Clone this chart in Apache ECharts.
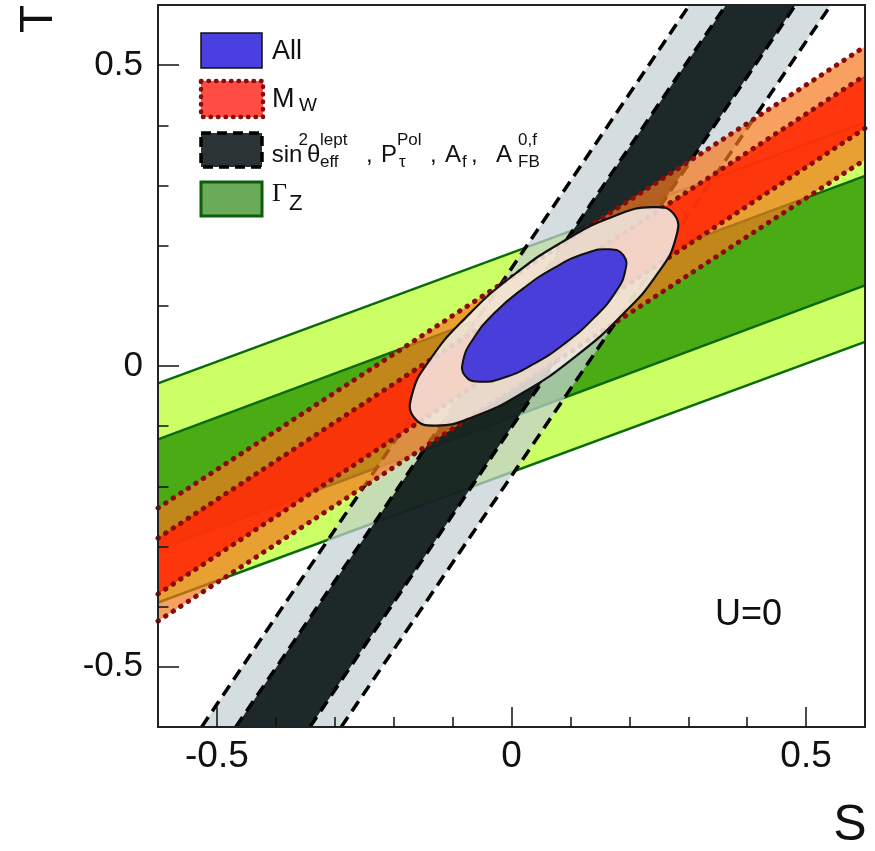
<!DOCTYPE html>
<html><head><meta charset="utf-8">
<script src="https://cdn.jsdelivr.net/npm/echarts@6/dist/echarts.min.js"></script>
<style>html,body{margin:0;padding:0;background:#fff}#c{width:875px;height:851px}</style>
</head><body><div id="c"></div><script>
// ---- axis ticks ----
const tickMajor = [-0.5, 0, 0.5];
const tickMinor = [-0.4, -0.3, -0.2, -0.1, 0.1, 0.2, 0.3, 0.4];
const tickLabels = ['-0.5', '0', '0.5'];

// ---- Γ_Z band edges: T at S = -0.6 and S = 0.6 ----
const edgeS = [-0.6, 0.6];
const gzOuterHi = [-0.029, 0.405];
const gzInnerHi = [-0.122, 0.316];
const gzInnerLo = [-0.305, 0.134];
const gzOuterLo = [-0.393, 0.040];

// ---- M_W band edges: T at S = -0.6 and S = 0.6 ----
const mwOuterHi = [-0.236, 0.531];
const mwInnerHi = [-0.286, 0.483];
const mwInnerLo = [-0.379, 0.395];
const mwOuterLo = [-0.424, 0.343];

// ---- sin2θ / asymmetries band edges: S at T = -0.6 and T = 0.6 ----
const edgeT = [-0.6, 0.6];
const swOuterL = [-0.526, 0.302];
const swInnerL = [-0.468, 0.364];
const swInnerR = [-0.342, 0.482];
const swOuterR = [-0.289, 0.542];

// ---- combined fit contours ----
const all95S = [0.276, 0.279, 0.249, 0.189, 0.109, 0.020, -0.063, -0.128, -0.165, -0.169, -0.138, -0.078, 0.002, 0.091, 0.174, 0.239];
const all95T = [0.252, 0.213, 0.155, 0.086, 0.016, -0.044, -0.084, -0.099, -0.086, -0.048, 0.011, 0.080, 0.150, 0.209, 0.249, 0.264];
const all68S = [0.190, 0.193, 0.176, 0.140, 0.091, 0.037, -0.015, -0.055, -0.079, -0.082, -0.065, -0.029, 0.020, 0.074, 0.125, 0.166];
const all68T = [0.184, 0.158, 0.122, 0.080, 0.038, 0.003, -0.020, -0.026, -0.016, 0.009, 0.045, 0.088, 0.129, 0.164, 0.187, 0.194];

const FONT = '"Liberation Sans", Arial, Helvetica, sans-serif';
const SERIF = '"Liberation Serif", "Times New Roman", serif';

const hEdge = ts => edgeS.map((s, i) => [s, ts[i]]);
const vEdge = ss => edgeT.map((t, i) => [ss[i], t]);
const band = (a, b) => a.concat(b.slice().reverse());
const zip = (xs, ys) => xs.map((x, i) => [x, ys[i]]);

let zc = 2;
function poly(name, pts, style, smooth) {
  return {
    type: 'custom', name: name, z: zc++, silent: true, clip: true,
    data: [[0, 0]],
    renderItem: function (p, api) {
      return { type: 'polygon', shape: { points: pts.map(q => api.coord(q)), smooth: smooth || 0 }, style: style };
    }
  };
}
function edge(name, pts, lineStyle) {
  return { type: 'line', name: name, z: zc++, silent: true, clip: true, symbol: 'none', showSymbol: false,
    data: pts, lineStyle: lineStyle, emphasis: { disabled: true } };
}

const greenLine = { color: '#0b6a0b', width: 2.5, type: 'solid' };
const dashLine = { color: '#000', width: 3.5, type: [12, 7] };
const dotLine = { color: '#8b0a0a', width: 5, type: [0.5, 8.5], cap: 'round' };

const series = [
  poly('Gamma_Z 95%', band(hEdge(gzOuterHi), hEdge(gzOuterLo)), { fill: '#ccff66' }),
  poly('Gamma_Z 68%', band(hEdge(gzInnerHi), hEdge(gzInnerLo)), { fill: '#4aab14' }),
  edge('gz1', hEdge(gzOuterHi), greenLine),
  edge('gz2', hEdge(gzInnerHi), greenLine),
  edge('gz3', hEdge(gzInnerLo), greenLine),
  edge('gz4', hEdge(gzOuterLo), greenLine),
  poly('sin2theta 95%', band(vEdge(swOuterL), vEdge(swOuterR)), { fill: 'rgba(196,208,211,0.72)' }),
  poly('sin2theta 68%', band(vEdge(swInnerL), vEdge(swInnerR)), { fill: 'rgba(3,16,16,0.88)' }),
  edge('sw1', vEdge(swOuterL), dashLine),
  edge('sw2', vEdge(swInnerL), dashLine),
  edge('sw3', vEdge(swInnerR), dashLine),
  edge('sw4', vEdge(swOuterR), dashLine),
  poly('M_W 95%', band(hEdge(mwOuterHi), hEdge(mwOuterLo)), { fill: 'rgba(245,119,28,0.7)' }),
  poly('M_W 68%', band(hEdge(mwInnerHi), hEdge(mwInnerLo)), { fill: 'rgba(255,43,7,0.9)' }),
  edge('mw1', hEdge(mwOuterHi), dotLine),
  edge('mw2', hEdge(mwInnerHi), dotLine),
  edge('mw3', hEdge(mwInnerLo), dotLine),
  edge('mw4', hEdge(mwOuterLo), dotLine),
  poly('All 95%', zip(all95S, all95T), { fill: 'rgba(242,238,230,0.86)', stroke: '#111', lineWidth: 2.2 }, 0.5),
  poly('All 68%', zip(all68S, all68T), { fill: '#4a3edb', stroke: '#111', lineWidth: 2 }, 0.5)
];

function txt(text, x, baseline, size, family) {
  return { type: 'text', x: x, y: baseline - 0.3465 * size, z: 100,
    style: { text: text, fontSize: size, fontFamily: family || FONT, fill: '#111', align: 'left', verticalAlign: 'middle' } };
}
const B3 = 163.5, SUP = 146, SUB = 168;
const graphics = [
  { type: 'rect', z: 100, shape: { x: 201, y: 33, width: 61, height: 35 }, style: { fill: '#4a3fe0', stroke: '#111', lineWidth: 1.5 } },
  txt('All', 272, 61, 27),
  { type: 'rect', z: 100, shape: { x: 201, y: 81, width: 62, height: 36 }, style: { fill: '#ff4d45', stroke: '#8b0a0a', lineWidth: 4.5, lineDash: [0.5, 7], lineCap: 'round' } },
  txt('M', 272, 108.5, 27), txt('W', 299, 112, 19),
  { type: 'rect', z: 100, shape: { x: 201, y: 133, width: 61, height: 34 }, style: { fill: '#2b3434', stroke: '#000', lineWidth: 3.5, lineDash: [10, 6] } },
  txt('sin', 271.7, B3, 24), txt('2', 298.5, SUP, 17), txt('θ', 307, B3, 24),
  txt('lept', 320, SUP, 17), txt('eff', 320, SUB, 17), txt(',', 366, B3, 24),
  txt('P', 381, B3, 24), txt('Pol', 397, SUP, 17), txt('τ', 399, SUB, 17), txt(',', 430, B3, 24),
  txt('A', 445, B3, 24), txt('f', 462, SUB, 17), txt(',', 471, B3, 24),
  txt('A', 496, B3, 24), txt('0,f', 518, SUP, 17), txt('FB', 518, SUB, 17),
  { type: 'rect', z: 100, shape: { x: 201, y: 182, width: 61, height: 34 }, style: { fill: '#6aab5a', stroke: '#0b5e0b', lineWidth: 3 } },
  txt('Γ', 272, 203.5, 26, SERIF), txt('Z', 289, 211.5, 22),
  txt('U=0', 715, 628, 36),
  { type: 'text', x: 39, y: 19, rotation: Math.PI / 2, z: 100, style: { text: 'T', fontSize: 46, fontFamily: FONT, fill: '#111', align: 'center', verticalAlign: 'middle' } },
  { type: 'text', x: 850, y: 826, z: 100, style: { text: 'S', fontSize: 50, fontFamily: FONT, fill: '#111', align: 'center', verticalAlign: 'middle' } }
];

const gridBox = { left: 158, top: 5, width: 707, height: 722 };
function axisCommon(extra) {
  return Object.assign({ type: 'value', min: -0.6, max: 0.6, z: 100, splitLine: { show: false } }, extra);
}
const chart = echarts.init(document.getElementById('c'), null, { renderer: 'canvas' });
chart.setOption({
  animation: false,
  backgroundColor: '#fff',
  grid: [
    Object.assign({ show: true, z: 100, borderColor: '#222', borderWidth: 2, backgroundColor: 'rgba(0,0,0,0)' }, gridBox),
    Object.assign({ show: false }, gridBox)
  ],
  xAxis: [
    axisCommon({ gridIndex: 0, position: 'bottom',
      axisLine: { show: true, onZero: false, lineStyle: { color: '#222', width: 2 } },
      axisTick: { show: true, inside: true, length: 20, customValues: tickMajor, lineStyle: { color: '#111', width: 1.5 } },
      axisLabel: { show: true, customValues: tickMajor, margin: 11, fontSize: 37, fontFamily: FONT, color: '#111',
        formatter: v => tickLabels[tickMajor.indexOf(v)] ?? String(v) } }),
    axisCommon({ gridIndex: 1, position: 'bottom',
      axisLine: { show: false, onZero: false },
      axisTick: { show: true, inside: true, length: 10, customValues: tickMinor, lineStyle: { color: '#111', width: 1.5 } },
      axisLabel: { show: false } })
  ],
  yAxis: [
    axisCommon({ gridIndex: 0, position: 'left',
      axisLine: { show: true, onZero: false, lineStyle: { color: '#222', width: 2 } },
      axisTick: { show: true, inside: true, length: 21, customValues: tickMajor, lineStyle: { color: '#111', width: 1.5 } },
      axisLabel: { show: true, customValues: tickMajor, margin: 15, fontSize: 35, fontFamily: FONT, color: '#111',
        formatter: v => tickLabels[tickMajor.indexOf(v)] ?? String(v) } }),
    axisCommon({ gridIndex: 1, position: 'left',
      axisLine: { show: false, onZero: false },
      axisTick: { show: true, inside: true, length: 10.5, customValues: tickMinor, lineStyle: { color: '#111', width: 1.5 } },
      axisLabel: { show: false } })
  ],
  graphic: graphics,
  series: series
});
</script></body></html>
